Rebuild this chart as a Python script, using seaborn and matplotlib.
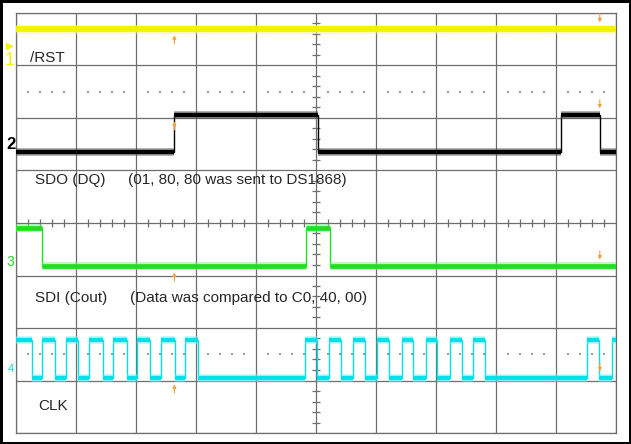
import numpy as np
import pandas as pd
import matplotlib
matplotlib.use("Agg")
import matplotlib.pyplot as plt
import seaborn as sns

###### trace data (time and level in screen divisions) ######
# ch1 /RST stays high the whole sweep
ch1_t = [0.0, 10.0]
ch1_v = [3.70, 3.70]

# ch2 SDO (DQ)
ch2_lo, ch2_hi = 1.35, 2.06
ch2_t = [0.0, 2.64, 5.03, 9.09, 9.73, 10.0]
ch2_s = [0, 1, 0, 1, 0, 0]

# ch3 SDI (Cout)
ch3_lo, ch3_hi = -0.82, -0.10
ch3_t = [0.0, 0.43, 4.83, 5.23, 10.0]
ch3_s = [1, 0, 1, 0, 0]

# ch4 CLK
ch4_lo, ch4_hi = -2.95, -2.23
ch4_t = [0.0, 0.27, 0.43, 0.65, 0.83, 1.03, 1.22, 1.45, 1.62, 1.85,
         2.02, 2.23, 2.42, 2.65, 2.82, 3.03,
         4.82, 5.02, 5.22, 5.42, 5.62, 5.82, 6.02, 6.22, 6.43, 6.62,
         6.83, 7.02, 7.23, 7.43, 7.62, 7.82,
         9.52, 9.72, 9.93, 10.0]
ch4_s = [1, 0, 1, 0, 1, 0, 1, 0, 1, 0,
         1, 0, 1, 0, 1, 0,
         1, 0, 1, 0, 1, 0, 1, 0, 1, 0,
         1, 0, 1, 0, 1, 0,
         1, 0, 1, 1]

# trigger markers (time, reference level per channel)
trig_left = 2.64
trig_right = 9.73
trig_levels = [3.70, 2.06, -0.82, -2.95]

labels = ["/RST", "SDO (DQ)", "(01, 80, 80 was sent to DS1868)",
          "SDI (Cout)", "(Data was compared to C0, 40, 00)", "CLK"]

colors = {"ch1": "#f2f200", "ch2": "#000000", "ch3": "#22dd22", "ch4": "#00e0e8"}
halo = {"ch1": "#ffff60", "ch2": "#555555", "ch3": "#80f080", "ch4": "#80f4f8"}
band_lw = {"ch1": 4.2, "ch2": 3.2, "ch3": 3.4, "ch4": 3.2}
grid_c = "#6e6e6e"
trig_c = "#f0a040"


def make_df(t, s=None, lo=None, hi=None, v=None):
    if v is None:
        v = [hi if k else lo for k in s]
    return pd.DataFrame({"t": t, "v": v})


traces = {
    "ch1": make_df(ch1_t, v=ch1_v),
    "ch2": make_df(ch2_t, ch2_s, ch2_lo, ch2_hi),
    "ch3": make_df(ch3_t, ch3_s, ch3_lo, ch3_hi),
    "ch4": make_df(ch4_t, ch4_s, ch4_lo, ch4_hi),
}

sns.set_style("white")
plt.rcParams["font.family"] = ["Liberation Sans", "DejaVu Sans"]

fig = plt.figure(figsize=(6.31, 4.44), dpi=100, facecolor="white",
                 edgecolor="black", linewidth=2.5)
ax = fig.add_axes([16 / 631, 11 / 444, 600 / 631, 420 / 444])
ax.set_xlim(0, 10)
ax.set_ylim(-4, 4)

# graticule
ax.set_xticks(np.arange(0, 11))
ax.set_yticks(np.arange(-4, 5))
ax.grid(True, color=grid_c, lw=0.9)
ax.set_axisbelow(True)
ax.tick_params(length=0, labelbottom=False, labelleft=False)
for sp in ax.spines.values():
    sp.set_color(grid_c)
    sp.set_linewidth(0.9)

minor_x = np.array([x for x in np.arange(0, 10.001, 0.2) if abs(x - round(x)) > 1e-6])
minor_y = np.array([y for y in np.arange(-4, 4.001, 0.2) if abs(y - round(y)) > 1e-6])
ax.vlines(minor_x, -0.07, 0.07, color=grid_c, lw=0.9)
ax.hlines(minor_y, 5 - 0.06, 5 + 0.06, color=grid_c, lw=0.9)
for row in [2.5, -2.5]:
    ax.scatter(minor_x, np.full(len(minor_x), row), s=1.2, marker="s",
               color="#9a9a9a", linewidths=0)

# traces: thin steps for edges + thick bands for the noisy levels
for name, df in traces.items():
    sns.lineplot(data=df, x="t", y="v", ax=ax, color=colors[name], lw=1.0,
                 drawstyle="steps-post", estimator=None, sort=False, zorder=3)
    ax.hlines(df["v"][:-1], df["t"][:-1], df["t"][1:], color=halo[name],
              lw=band_lw[name] + 2.4, alpha=0.5, zorder=3)
    ax.hlines(df["v"][:-1], df["t"][:-1], df["t"][1:], color=colors[name],
              lw=band_lw[name], zorder=4)
ax.set_xlabel("")
ax.set_ylabel("")

# trigger arrows
for lv in trig_levels:
    ax.annotate("", xy=(trig_left, lv - 0.07), xytext=(trig_left, lv - 0.34),
                arrowprops=dict(arrowstyle="-|>", color=trig_c, lw=0.8,
                                mutation_scale=5), zorder=5)
    ax.annotate("", xy=(trig_right, lv + 0.07), xytext=(trig_right, lv + 0.34),
                arrowprops=dict(arrowstyle="-|>", color=trig_c, lw=0.8,
                                mutation_scale=5), zorder=5)

# labels
fs = 11
ax.text(0.233, 3.14, labels[0], fontsize=fs, va="center", ha="left")
ax.text(0.317, 0.82, labels[1], fontsize=fs, va="center", ha="left")
ax.text(1.867, 0.82, labels[2], fontsize=fs, va="center", ha="left")
ax.text(0.317, -1.43, labels[3], fontsize=fs, va="center", ha="left")
ax.text(1.90, -1.43, labels[4], fontsize=fs, va="center", ha="left")
ax.text(0.367, -3.49, labels[5], fontsize=fs, va="center", ha="left")

# channel ground markers
ax.text(-0.10, 3.10, "1", color=colors["ch1"], fontsize=13, ha="center",
        va="center", clip_on=False)
ax.plot([-0.12], [3.37], marker=">", ms=4, color=colors["ch1"], clip_on=False)
ax.text(-0.08, 1.49, "2", color="black", fontsize=12, fontweight="bold",
        ha="center", va="center", clip_on=False)
ax.text(-0.09, -0.74, "3", color=colors["ch3"], fontsize=10, ha="center",
        va="center", clip_on=False)
ax.text(-0.08, -2.78, "4", color=colors["ch4"], fontsize=8, ha="center",
        va="center", clip_on=False)

fig.savefig("out.png", dpi=100, facecolor="white", edgecolor="black")
